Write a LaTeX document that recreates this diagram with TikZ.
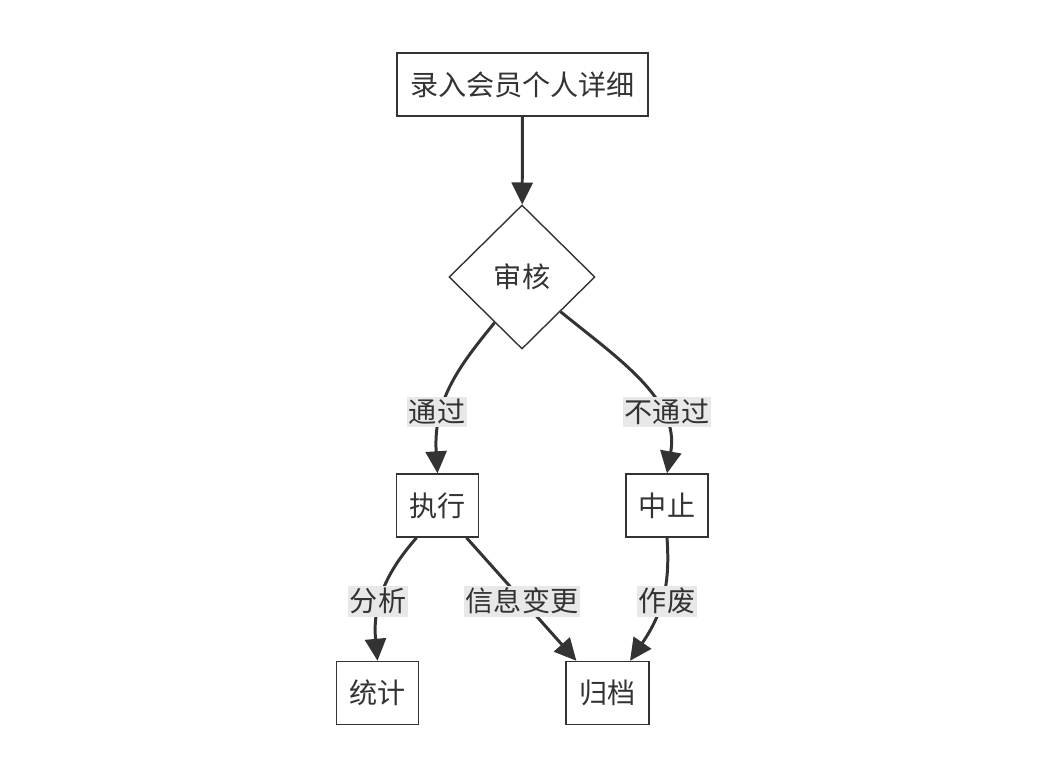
\documentclass[tikz,border=0pt]{standalone}
\usepackage{fontspec}
\newfontfamily\cjk{Noto Sans CJK SC}
\usetikzlibrary{arrows.meta, shapes.geometric}
\definecolor{ink}{HTML}{333333}
\definecolor{labelbg}{HTML}{E8E8E8}

\begin{document}
\begin{tikzpicture}[
            x = 0.02cm, y = -0.02cm, % one unit is one pixel
            > = {Triangle[length = 0.44cm, width = 0.42cm]}, % arrow head style
            font = \cjk\fontsize{16}{18}\selectfont,
            text = ink
        ]

        \tikzstyle{box}=[
            draw = ink,
            line width = 0.8pt,
            fill = white,
            inner sep = 0pt,
            minimum height = 1.26cm
        ]
        \tikzstyle{check}=[box, diamond, minimum width = 2.92cm, minimum height = 2.88cm]
        \tikzstyle{tag}=[fill = labelbg, inner sep = 1pt, minimum height = 0.62cm]
        \tikzstyle{flow}=[->, draw = ink, line width = 1.7pt]

        \useasboundingbox (0,0) rectangle (1046,781);

        \node[box, minimum width = 5.02cm] (entry) at (522.5, 84.5) {录入会员个人详细};
        \node[check] (audit) at (522, 277) {审核};
        \node[box, minimum width = 1.64cm] (exec) at (437.5, 505.5) {执行};
        \node[box, minimum width = 1.64cm] (halt) at (667, 505.5) {中止};
        \node[box, minimum width = 1.64cm] (stat) at (377.5, 693) {统计};
        \node[box, minimum width = 1.66cm] (arch) at (607.5, 693) {归档};

        \draw[flow] (entry) -- (audit);
        \draw[flow] (audit.-121) .. controls (460, 365) and (433, 400) .. (exec.north);
        \draw[flow] (audit.-42) .. controls (620, 360) and (680, 400) .. (halt.north);
        \draw[flow] (exec.-123) .. controls (390, 568) and (372, 600) .. (stat.north);
        \draw[flow] (exec.-48) -- (arch.134);
        \draw[flow] (halt.-90) .. controls (670, 580) and (665, 610) .. (arch.55);

        \node[tag] (pass) at (437, 412) {通过};
        \node[tag] (fail) at (667, 412) {不通过};
        \node[tag] (study) at (378, 601) {分析};
        \node[tag] (change) at (522, 601) {信息变更};
        \node[tag] (void) at (667, 601) {作废};

  \end{tikzpicture}
\end{document}
